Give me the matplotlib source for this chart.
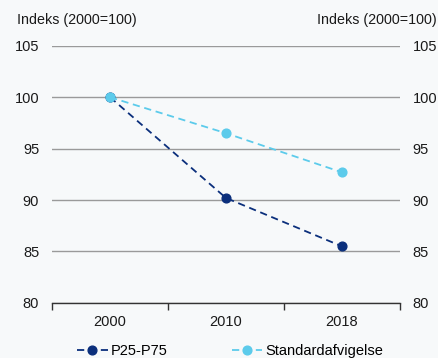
import matplotlib
matplotlib.use("Agg")
import matplotlib.pyplot as plt
from matplotlib.ticker import FixedLocator

plt.rcParams['font.family'] = ['Liberation Sans', 'DejaVu Sans']

categories = ["2000", "2010", "2018"]
p25_p75 = [100.0, 90.2, 85.5]
std_dev = [100.0, 96.5, 92.7]
yticks = [80, 85, 90, 95, 100, 105]

bg = "#f7f9fa"
dark = "#0b2f7c"
light = "#5ccbeb"

fig = plt.figure(figsize=(4.38, 3.58), dpi=100, facecolor=bg)
ax = fig.add_axes([0.119, 0.154, 0.794, 0.718], facecolor=bg)

x = list(range(len(categories)))
ax.plot(x, p25_p75, color=dark, ls=(0, (4, 2.6)), lw=1.3, marker='o', ms=6.3,
        label="P25-P75", zorder=3)
ax.plot(x, std_dev, color=light, ls=(0, (4, 2.6)), lw=1.3, marker='o', ms=6.3,
        label="Standardafvigelse", zorder=4)

ax.set_xlim(-0.5, 2.5)
ax.set_ylim(80, 105)
ax.set_yticks(yticks)
ax.set_xticks(x)
ax.set_xticklabels(categories)
ax.xaxis.set_minor_locator(FixedLocator([-0.5, 0.5, 1.5, 2.5]))
ax.tick_params(axis='x', which='major', length=0, pad=9, labelsize=10.5, colors='#1a1a1a')
ax.tick_params(axis='x', which='minor', length=5, width=1, color='#333333', direction='out')
ax.tick_params(axis='y', length=0, labelsize=10.5, pad=9.3, colors='#1a1a1a',
               labelleft=True, labelright=True)
ax.grid(axis='y', color='#9a9a9a', lw=1)
ax.set_axisbelow(True)
for s in ['top', 'left', 'right']:
    ax.spines[s].set_visible(False)
ax.spines['bottom'].set_color('#333333')
ax.spines['bottom'].set_linewidth(1)
ax.spines['bottom'].set_zorder(5)

fig.text(17/438, 1 - 20/358, "Indeks (2000=100)", ha='left', va='center', fontsize=10.3, color='#1a1a1a')
fig.text(437/438, 1 - 20/358, "Indeks (2000=100)", ha='right', va='center', fontsize=10.3, color='#1a1a1a')

leg = fig.legend(loc='center', bbox_to_anchor=(0.525, 1 - 351/358), ncol=2, frameon=False,
                 fontsize=10.5, handlelength=2.1, columnspacing=4.4, handletextpad=0.2)

fig.savefig("out.png", dpi=100, facecolor=bg)
